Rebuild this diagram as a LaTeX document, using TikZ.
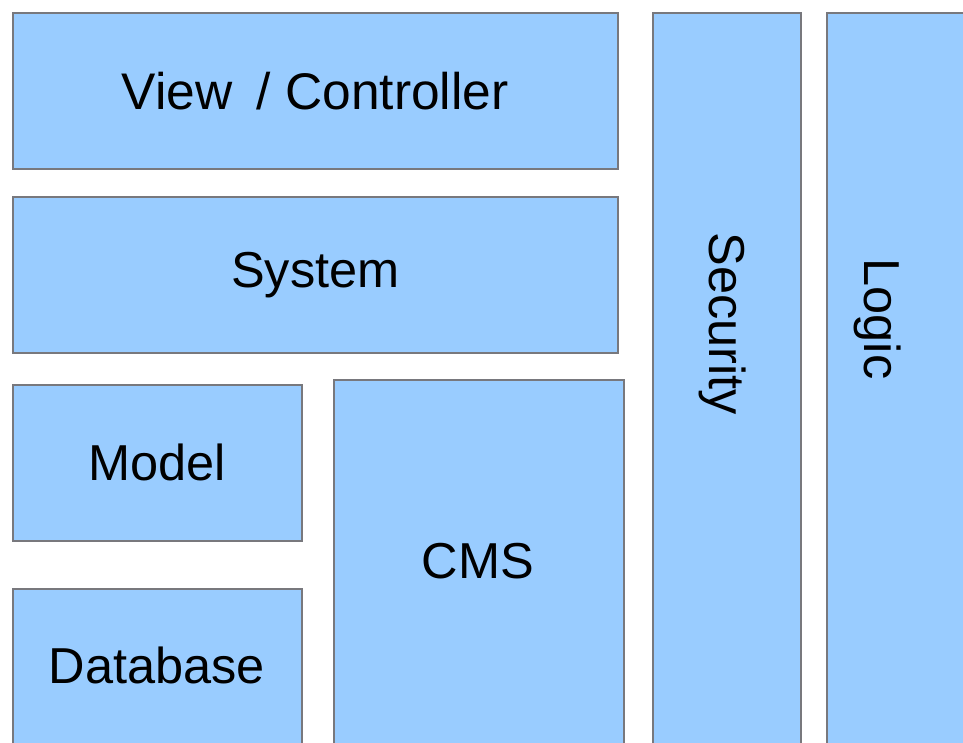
\documentclass[tikz,border=0pt]{standalone}
\usepackage{fontspec}
\setmainfont{Liberation Sans}
\definecolor{boxblue}{RGB}{153,204,255}
\definecolor{boxedge}{RGB}{120,120,125}
\begin{document}
\begin{tikzpicture}[x=1pt,y=-1pt,
  layer/.style={draw=boxedge, line width=1.6pt, fill=boxblue, rectangle,
    inner sep=0pt, anchor=north west, font=\fontsize{50.5}{60}\selectfont},
  caption/.style={inner sep=0pt, font=\fontsize{50.5}{60}\selectfont}]
  \useasboundingbox (0,0) rectangle (963,743);
  \clip (0,0) rectangle (963,743);
  % horizontal layers
  \node[layer, minimum width=605pt, minimum height=156pt,
    font=\fontsize{51.5}{60}\selectfont] (view) at (12,12) {View\hspace{0.47em}/ Controller};
  \node[layer, minimum width=605pt, minimum height=156pt] (system) at (12,196) {System};
  \node[layer, minimum width=289pt, minimum height=156pt] (model) at (12,384) {Model};
  % layers that run past the bottom edge
  \node[layer, minimum width=289pt, minimum height=190pt] (database) at (12,588) {};
  \node[layer, minimum width=290pt, minimum height=400pt] (cms) at (333,379) {};
  \node[layer, minimum width=148pt, minimum height=760pt] (security) at (652,12) {};
  \node[layer, minimum width=160pt, minimum height=760pt] (logic) at (826,12) {};
  \node[caption] (databasetext) at (157,665) {Database};
  \node[caption] (cmstext) at (478,561) {CMS};
  \node[caption, rotate=-90] (securitytext) at (723,324) {Security};
  \node[caption, rotate=-90] (logictext) at (878,319) {Logic};
\end{tikzpicture}
\end{document}
